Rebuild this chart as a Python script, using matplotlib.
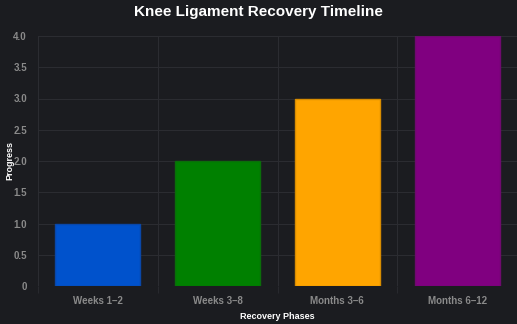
import matplotlib
matplotlib.use('Agg')
import matplotlib.pyplot as plt
from matplotlib.ticker import FixedLocator, FuncFormatter

phases = ['Weeks 1\u20132', 'Weeks 3\u20138', 'Months 3\u20136', 'Months 6\u201312']
progress = [1, 2, 3, 4]
colors = ['#0052cc', '#008000', '#ffa500', '#800080']
edges = ['#0a47a8', '#0a6e0a', '#d88c00', '#6e0a6e']
y_ticks = [0, 0.5, 1.0, 1.5, 2.0, 2.5, 3.0, 3.5, 4.0]

BG = '#1b1c20'
GRID = '#2b2c31'
TICK = '#8a8a8a'

plt.rcParams['font.family'] = ['Liberation Sans', 'DejaVu Sans']

fig = plt.figure(figsize=(5.17, 3.24), dpi=100, facecolor=BG)
ax = fig.add_axes([38 / 517, 1 - 286 / 324, 1 - 38 / 517, 250 / 324])
ax.set_facecolor(BG)

x = range(len(phases))
ax.bar(x, progress, width=0.71, color=colors, edgecolor=edges, linewidth=1.0, zorder=3)

ax.set_xlim(-0.5, 3.5)
ax.set_ylim(0, 4.0)
ax.set_xticks(list(x))
ax.set_xticklabels(phases)
ax.xaxis.set_minor_locator(FixedLocator([-0.5, 0.5, 1.5, 2.5, 3.5]))
ax.set_yticks(y_ticks)
ax.yaxis.set_major_formatter(FuncFormatter(lambda v, p: '0' if v == 0 else f'{v:.1f}'))

ax.grid(True, axis='y', which='major', color=GRID, linewidth=0.8, zorder=0)
ax.grid(True, axis='x', which='minor', color=GRID, linewidth=0.8, zorder=0)
ax.tick_params(axis='x', which='major', length=0, pad=7, colors=TICK, labelsize=7)
ax.tick_params(axis='x', which='minor', length=5, color=GRID)
ax.tick_params(axis='y', length=0, pad=8, colors=TICK, labelsize=7)
for lbl in ax.get_xticklabels() + ax.get_yticklabels():
    lbl.set_fontweight('bold')
for s in ax.spines.values():
    s.set_visible(False)

ax.set_xlabel('Recovery Phases', color='white', fontsize=6.5, fontweight='bold')
ax.xaxis.set_label_coords(0.5, -0.105)
ax.set_ylabel('Progress', color='white', fontsize=6.5, fontweight='bold')
ax.yaxis.set_label_coords(-0.05, 0.5)
fig.suptitle('Knee Ligament Recovery Timeline', color='white', fontsize=11,
             fontweight='bold', y=0.985)

fig.savefig('out.png', dpi=100, facecolor=BG)
